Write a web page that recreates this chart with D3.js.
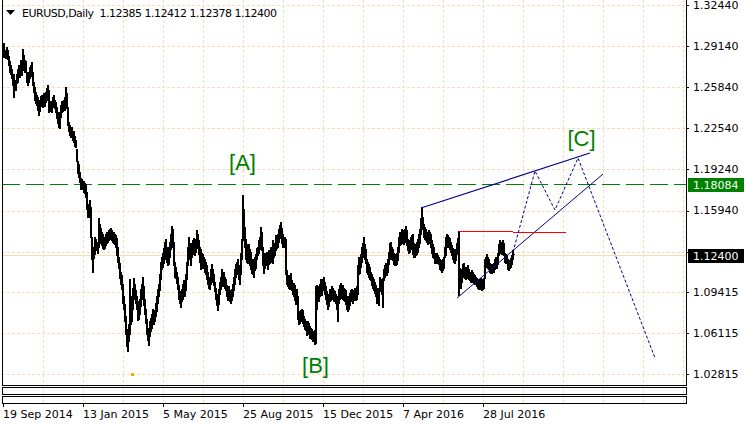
<!DOCTYPE html>
<html><head><meta charset="utf-8">
<script src="https://cdn.jsdelivr.net/npm/d3@7/dist/d3.min.js"></script>
<style>html,body{margin:0;padding:0;background:#fff;}svg{display:block;font-family:"DejaVu Sans",sans-serif;}</style>
</head><body><svg id="c" width="746" height="427"></svg>
<script>
// ---------- data ----------
const symbolTitle = "EURUSD,Daily";
const lastOHLC = ["1.12385", "1.12412", "1.12378", "1.12400"];
// daily highs / lows in pips (price * 10000), one per bar, 19 Sep 2014 onward
const highPips = [
12931,12880,12870,12905,12880,12830,12790,12760,12730,12680,
12690,12640,12640,12690,12730,12760,12740,12800,12780,12887,
12840,12800,12790,12700,12680,12700,12740,12760,12780,12700,
12620,12580,12540,12520,12500,12430,12480,12510,12520,12490,
12530,12510,12540,12570,12600,12560,12460,12470,12450,12500,
12520,12480,12460,12420,12380,12330,12380,12440,12470,12460,
12480,12500,12578,12530,12420,12300,12280,12250,12260,12230,
12230,12190,12160,12080,11990,11960,11900,11850,11840,11830,
11830,11810,11800,11740,11640,11620,11678,11620,11380,11300,
11300,11380,11360,11340,11330,11530,11480,11450,11420,11400,
11370,11380,11400,11420,11420,11430,11440,11450,11430,11420,
11420,11400,11390,11370,11300,11220,11170,11100,11070,11000,
10900,10840,10740,10640,10600,10680,11043,10900,10890,10970,
11050,11000,10950,10900,10860,10820,10880,10960,11000,11060,
10980,10880,10800,10720,10650,10620,10700,10730,10760,10800,
10780,10790,10850,10900,10960,11000,11080,11180,11220,11250,
11290,11340,11360,11300,11270,11300,11340,11400,11467,11440,
11340,11180,11140,11100,11060,10990,10940,10920,10960,11000,
11030,11010,11080,11180,11300,11380,11330,11300,11330,11350,
11370,11340,11360,11437,11400,11350,11300,11278,11250,11240,
11220,11200,11180,11150,11100,11060,11050,11120,11160,11120,
11080,11020,10970,10920,10880,10960,11020,11060,11120,11080,
11100,11060,11040,10990,10960,10980,10950,10920,10960,11000,
11060,11120,11160,11180,11200,11150,11100,11250,11360,11714,
11600,11460,11360,11320,11300,11320,11280,11260,11200,11180,
11200,11220,11240,11290,11300,11350,11380,11460,11420,11300,
11200,11250,11250,11260,11230,11270,11260,11300,11290,11350,
11300,11330,11390,11380,11400,11440,11470,11495,11450,11400,
11380,11380,11360,11110,11050,11070,11050,11090,11030,11000,
11010,10990,10950,10960,10900,10780,10770,10790,10800,10790,
10740,10720,10700,10680,10700,10690,10660,10650,10640,10620,
10610,10630,10982,10990,10980,10960,11000,11040,11010,11040,
11060,11020,10980,10940,10900,10920,10960,10950,10980,10970,
10950,10940,10920,10900,10880,10960,10990,11010,10980,10990,
10970,10960,10950,10900,10880,10900,10930,10950,10960,10940,
10950,10970,10960,10980,11150,11220,11200,11240,11300,11330,
11376,11320,11280,11200,11180,11160,11140,11100,11080,11060,
11040,11020,10990,10960,10970,10950,11060,11040,11020,11050,
11120,11150,11170,11160,11200,11260,11330,11340,11300,11280,
11250,11240,11230,11250,11300,11380,11420,11410,11440,11430,
11410,11440,11464,11430,11360,11340,11350,11380,11390,11400,
11330,11300,11320,11340,11360,11400,11440,11530,11616,11540,
11480,11460,11440,11420,11410,11430,11420,11400,11350,11320,
11300,11250,11240,11250,11230,11220,11200,11190,11170,11200,
11220,11300,11380,11400,11390,11380,11370,11340,11310,11290,
11280,11260,11280,11330,11370,11428,11130,11100,11120,11160,
11170,11140,11130,11140,11150,11120,11100,11090,11110,11100,
11080,11070,11060,11050,11040,11030,11040,11050,11030,11040,
11050,11200,11220,11240,11220,11200,11170,11160,11150,11160,
11170,11200,11220,11210,11250,11320,11357,11340,11330,11350,
11330,11250,11240,11230,11200,11180,11190,11210,11230,11270,
11241];
const lowPips = [
12826,12830,12818,12830,12810,12760,12700,12690,12650,12600,
12500,12560,12560,12610,12620,12680,12660,12700,12680,12720,
12720,12700,12700,12620,12600,12620,12650,12670,12700,12600,
12540,12480,12450,12440,12400,12358,12390,12430,12440,12420,
12450,12430,12460,12480,12510,12380,12390,12400,12380,12420,
12440,12410,12380,12330,12290,12260,12250,12340,12380,12390,
12400,12400,12450,12410,12280,12230,12200,12180,12190,12160,
12140,12110,12100,11990,11890,11860,11820,11760,11770,11760,
11740,11730,11700,11600,11540,11540,11550,11380,11200,11098,
11210,11240,11270,11270,11250,11300,11360,11330,11310,11290,
11280,11290,11310,11330,11340,11350,11360,11370,11350,11340,
11330,11320,11300,11230,11180,11130,11050,11000,10960,10850,
10800,10700,10600,10500,10462,10540,10600,10680,10700,10800,
10900,10880,10850,10800,10710,10720,10760,10820,10880,10920,
10830,10760,10690,10600,10550,10514,10580,10620,10650,10690,
10680,10700,10740,10780,10850,10900,10950,11040,11120,11140,
11170,11200,11230,11180,11150,11160,11220,11280,11330,11300,
11150,11060,11050,11010,10960,10880,10850,10818,10860,10880,
10920,10900,10950,11040,11150,11240,11200,11150,11220,11240,
11260,11230,11260,11300,11290,11240,11180,11120,11150,11130,
11130,11100,11080,11040,11000,10970,10960,11000,11040,11020,
10990,10940,10880,10830,10795,10840,10920,10960,11000,10980,
11000,10970,10950,10900,10870,10880,10860,10850,10870,10900,
10950,11000,11060,11080,11100,11040,11000,11080,11200,11350,
11380,11300,11200,11180,11170,11200,11150,11120,11090,11080,
11060,11110,11130,11200,11230,11250,11280,11320,11270,11150,
11090,11130,11150,11170,11120,11160,11170,11180,11200,11170,
11220,11230,11270,11290,11300,11340,11370,11380,11330,11300,
11300,11310,11080,11000,10980,10970,10960,10990,10950,10920,
10900,10870,10840,10850,10720,10680,10690,10700,10720,10690,
10660,10640,10630,10590,10620,10600,10570,10570,10560,10540,
10550,10520,10524,10800,10870,10860,10900,10940,10910,10950,
10960,10920,10880,10840,10800,10820,10860,10870,10890,10880,
10860,10860,10850,10800,10700,10850,10880,10910,10890,10880,
10870,10860,10840,10800,10780,10800,10830,10860,10870,10850,
10870,10880,10870,10880,10920,11080,11090,11140,11180,11220,
11250,11200,11170,11100,11080,11060,11040,11030,10990,10970,
10950,10930,10900,10850,10860,10830,10960,10940,10920,10819,
11030,11060,11080,11070,11100,11160,11200,11230,11200,11190,
11160,11150,11150,11160,11190,11260,11310,11320,11340,11330,
11320,11340,11360,11310,11270,11250,11260,11280,11300,11240,
11220,11220,11230,11240,11260,11300,11330,11400,11470,11440,
11380,11360,11350,11340,11320,11340,11330,11300,11250,11220,
11210,11170,11170,11180,11170,11160,11120,11110,11098,11110,
11130,11220,11230,11320,11300,11300,11280,11260,11230,11200,
11180,11170,11190,11240,11260,10912,10990,10970,11020,11060,
11080,11050,11040,11050,11060,11040,11030,11020,11030,11020,
11010,11000,11000,10980,10970,10960,10970,10960,10950,10960,
10970,11050,11140,11150,11130,11120,11100,11090,11092,11100,
11100,11120,11140,11130,11160,11230,11260,11250,11240,11260,
11230,11180,11170,11180,11120,11116,11130,11140,11160,11200,
11238];
const priceTicks = [1.32440, 1.29140, 1.25840, 1.22540, 1.19240, 1.15940, 1.12640, 1.09415, 1.06115, 1.02815];
const dateLabels = ["19 Sep 2014", "13 Jan 2015", "5 May 2015", "25 Aug 2015", "15 Dec 2015", "7 Apr 2016", "28 Jul 2016"];
const dateLabelBars = [0, 80, 160, 240, 320, 400, 480];
const gridBars = [40, 80, 120, 160, 200, 240, 280, 320, 360, 400, 440, 480, 520, 560, 600, 640, 680];
const levelPrice = 1.18084;
const bidPrice = 1.12400;
// analysis objects: [bar index, price]
const upperChannel = [[418, 1.16138], [587, 1.20554]];
const lowerChannel = [[454, 1.08911], [600, 1.18868]];
const redLevel1 = [[456, 1.1430], [510, 1.1430]];
const redLevel2 = [[510, 1.1421], [563, 1.1421]];
const projection = [[510, 1.12610], [532, 1.19113], [552, 1.15982], [575, 1.20157], [652, 1.04100]];
const waveLabels = ["[A]", "[B]", "[C]"];
const waveBars = [239.5, 312.5, 578.5];
const wavePrices = [1.19153, 1.02895, 1.21080];
const markerBar = 129, markerPrice = 1.0285;

// ---------- drawing ----------
const svg = d3.select("#c");
const W = 746, H = 427;
const plotL = 2, plotR = 686, plotB = 385;
const x = d3.scaleLinear().domain([0, 683]).range([3, 686]);
const y = d3.scaleLinear().domain([1.02815, 1.32440]).range([374, 5]);
const GRID = "#f5deb3";
const px = v => Math.round(v) + 0.5;

svg.append("rect").attr("width", W).attr("height", H).attr("fill", "#fff");

// grid
const g = svg.append("g").attr("shape-rendering", "crispEdges");
g.selectAll("line.h").data(priceTicks).join("line")
  .attr("x1", plotL).attr("x2", plotR).attr("y1", d => px(y(d))).attr("y2", d => px(y(d)))
  .attr("stroke", GRID).attr("stroke-dasharray", "3,2");
g.selectAll("line.v").data(gridBars).join("line").attr("class", "v")
  .attr("x1", d => px(x(d))).attr("x2", d => px(x(d))).attr("y1", 0).attr("y2", 403)
  .attr("stroke", GRID).attr("stroke-dasharray", "3,2");

// bid line
g.append("line").attr("x1", plotL).attr("x2", plotR).attr("y1", px(y(bidPrice))).attr("y2", px(y(bidPrice)))
  .attr("stroke", GRID);
// level line
g.append("line").attr("x1", plotL).attr("x2", plotR).attr("y1", px(y(levelPrice))).attr("y2", px(y(levelPrice)))
  .attr("stroke", "#008000").attr("stroke-dasharray", "18,6");

// bars (vertical range plus open/close tick width)
const bars = highPips.map((h, i) => ({i, h: h / 10000, l: lowPips[i] / 10000}));
svg.append("g").attr("shape-rendering", "crispEdges").selectAll("rect").data(bars).join("rect")
  .attr("x", d => Math.round(x(d.i)))
  .attr("y", d => Math.floor(y(d.h)))
  .attr("width", 2)
  .attr("height", d => Math.max(1, Math.ceil(y(d.l)) - Math.floor(y(d.h))))
  .attr("fill", "#000");

// marker
svg.append("rect").attr("x", Math.round(x(markerBar)) - 1).attr("y", Math.round(y(markerPrice)) - 1)
  .attr("width", 3).attr("height", 3).attr("fill", "#ffa500");

// analysis lines
const line = d3.line().x(d => x(d[0])).y(d => y(d[1]));
svg.append("path").attr("d", line(upperChannel)).attr("fill", "none").attr("stroke", "#00008b").attr("stroke-width", 1.2);
svg.append("path").attr("d", line(lowerChannel)).attr("fill", "none").attr("stroke", "#00008b").attr("stroke-width", 1);
const hl = d3.line().x(d => x(d[0])).y(d => px(y(d[1])));
svg.append("path").attr("d", hl(redLevel1)).attr("fill", "none").attr("stroke", "#ff0000").attr("shape-rendering", "crispEdges");
svg.append("path").attr("d", hl(redLevel2)).attr("fill", "none").attr("stroke", "#ff0000").attr("shape-rendering", "crispEdges");
svg.append("path").attr("d", line(projection)).attr("fill", "none").attr("stroke", "#00008b")
  .attr("stroke-width", 1).attr("stroke-dasharray", "3,2");

// wave labels
svg.selectAll("text.wave").data(waveLabels).join("text").attr("class", "wave")
  .attr("x", (d, i) => x(waveBars[i])).attr("y", (d, i) => y(wavePrices[i]))
  .attr("text-anchor", "middle").attr("font-family", "Liberation Sans, Arial, sans-serif")
  .attr("font-size", 22).attr("fill", "#008000").text(d => d);

// frames
const f = svg.append("g").attr("shape-rendering", "crispEdges").attr("fill", "none").attr("stroke", "#000");
f.append("path").attr("d", `M${plotL + 0.5},-1V${plotB + 0.5}H${plotR + 0.5}V-1`);
f.append("rect").attr("x", plotL + 0.5).attr("y", 387.5).attr("width", plotR - plotL).attr("height", 7);
f.append("rect").attr("x", plotL + 0.5).attr("y", 396.5).attr("width", plotR - plotL).attr("height", 7);

// right axis ticks and labels (the label under the bid box is hidden, as in the terminal)
f.selectAll("line.rt").data(priceTicks).join("line").attr("class", "rt")
  .attr("x1", plotR).attr("x2", plotR + 3).attr("y1", d => px(y(d))).attr("y2", d => px(y(d)));
const visibleTicks = priceTicks.filter(d => Math.abs(y(d) - y(bidPrice)) > 10 && Math.abs(y(d) - y(levelPrice)) > 10);
svg.selectAll("text.pl").data(visibleTicks).join("text").attr("class", "pl")
  .attr("x", 693).attr("y", d => y(d)).attr("dy", "0.36em").attr("font-size", 11).attr("fill", "#000")
  .text(d => d.toFixed(5));

// price boxes
function priceBox(p, bg) {
  const yy = Math.round(y(p));
  svg.append("rect").attr("x", 688).attr("y", yy - 6).attr("width", 56).attr("height", 14).attr("fill", bg);
  svg.append("text").attr("x", 693).attr("y", yy + 1).attr("dy", "0.36em").attr("font-size", 11)
    .attr("fill", "#fff").text(p.toFixed(5));
}
priceBox(levelPrice, "#008000");
priceBox(bidPrice, "#000");

// bottom axis
f.selectAll("line.bt").data(dateLabelBars).join("line").attr("class", "bt")
  .attr("x1", d => px(x(d))).attr("x2", d => px(x(d))).attr("y1", 404).attr("y2", 407);
svg.selectAll("text.dl").data(dateLabels).join("text").attr("class", "dl")
  .attr("x", (d, i) => x(dateLabelBars[i])).attr("y", 418).attr("font-size", 11).attr("fill", "#000")
  .text(d => d);

// title
svg.append("path").attr("d", "M6,10H15L10.5,15Z").attr("fill", "#000");
svg.append("text").attr("x", 22).attr("y", 17).attr("font-size", 11).attr("letter-spacing", -0.5).attr("fill", "#000")
  .attr("xml:space", "preserve").style("white-space", "pre")
  .text(symbolTitle + "  " + lastOHLC.join(" "));
</script></body></html>
